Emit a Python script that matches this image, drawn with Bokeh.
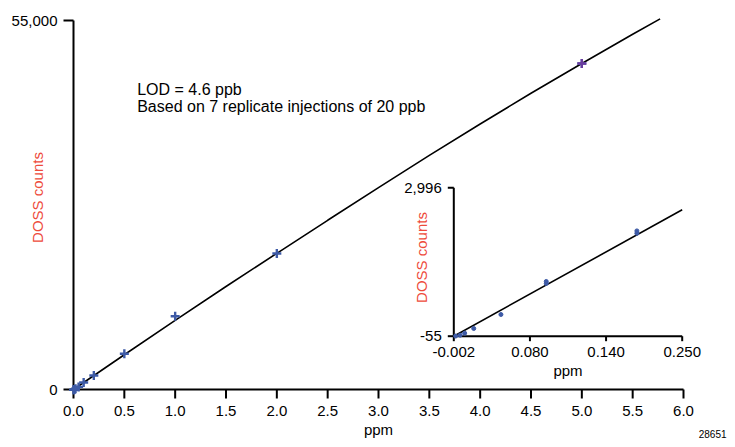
import math
from bokeh.plotting import figure
from bokeh.models import Range1d
from bokeh.core.properties import value
from bokeh.embed import file_html
from bokeh.resources import INLINE

# ---------------- data ----------------
conc_ppm = [0.0, 0.005, 0.01, 0.02, 0.05, 0.1, 0.2, 0.5, 1.0, 2.0, 5.0]
doss_counts = [-50, -34, 7, 103, 391, 1049, 2083, 5321, 10925, 20271, 48591]

fit_ppm = [0.0, 0.5, 1.0, 1.5, 2.0, 2.5, 3.0, 3.5, 4.0, 4.5, 5.0, 5.5, 5.77]
fit_counts = [0, 5180, 10300, 15350, 20300, 25220, 30100, 34900, 39580, 44150,
              48600, 52950, 55250]

inset_ppm = [0.0, 0.005, 0.01, 0.02, 0.05, 0.1, 0.1, 0.2, 0.2]
inset_counts = [-52, -34, 7, 103, 391, 1030, 1070, 2060, 2110]
inset_fit_ppm = [-0.002, 0.250]
inset_fit_counts = [-55, 2544]

main_xticks = [0.0, 0.5, 1.0, 1.5, 2.0, 2.5, 3.0, 3.5, 4.0, 4.5, 5.0, 5.5, 6.0]
main_yticks = [0, 55000]
inset_xticks = [-0.002, 0.082, 0.166, 0.250]
inset_xtick_labels = ["-0.002", "0.080", "0.140", "0.250"]
inset_yticks = [-55, 2996]

x_title = "ppm"
y_title = "DOSS counts"
annotation_lines = ["LOD = 4.6 ppb", "Based on 7 replicate injections of 20 ppb"]
footnote = "28651"

# ---------------- layout constants (pixels) ----------------
W, H = 735, 447
FL, FR, FT, FB = 73.0, 683.0, 20.0, 389.0      # main plot box
IL, IR, IT, IB = 453.3, 681.7, 187.3, 335.7    # inset plot box
X0, X1, Y0, Y1 = 0.0, 6.0, 0.0, 55000.0
IX0, IX1, IY0, IY1 = -0.002, 0.250, -55.0, 2996.0

FONT = value("Liberation Sans")
RED = "#EE4B3B"
BLUE = "#3D5AA6"
PURPLE = "#6A3C9E"

mx = (X1 - X0) / (FR - FL)   # data per pixel, main
my = (Y1 - Y0) / (FB - FT)
kx = (IX1 - IX0) / (IR - IL)  # data per pixel, inset
ky = (IY1 - IY0) / (IB - IT)


def fx(px):
    return X0 + (px - FL) * mx


def fy(py):
    return Y0 + (FB - py) * my


p = figure(
    width=W, height=H, min_border=0,
    x_range=Range1d(fx(0), fx(W)), y_range=Range1d(fy(H), fy(0)),
    x_axis_location=None, y_axis_location=None,
    output_backend="svg", toolbar_location=None,
)
p.extra_x_ranges = {"inset": Range1d(IX0 - IL * kx, IX1 + (W - IR) * kx)}
p.extra_y_ranges = {"inset": Range1d(IY0 - (H - IB) * ky, IY1 + IT * ky)}
p.outline_line_color = None
p.xgrid.visible = False
p.ygrid.visible = False
p.background_fill_color = "white"
p.border_fill_color = "white"

TXT = dict(text_font=FONT, text_font_size="15px", text_color="black")

# ---------------- main axes ----------------
p.segment(x0=[X0, X0], y0=[Y0, Y0], x1=[X1, X0], y1=[Y0, Y1],
          line_color="black", line_width=2)
p.segment(x0=main_xticks, y0=[Y0] * len(main_xticks),
          x1=main_xticks, y1=[Y0 - 9 * my] * len(main_xticks),
          line_color="black", line_width=2)
p.segment(x0=[X0] * len(main_yticks), y0=main_yticks,
          x1=[X0 - 10 * mx] * len(main_yticks), y1=main_yticks,
          line_color="black", line_width=2)
p.text(x=main_xticks, y=[Y0] * len(main_xticks), text=[f"{v:.1f}" for v in main_xticks],
       text_align="center", text_baseline="middle", y_offset=21, **TXT)
p.text(x=[X0] * len(main_yticks), y=main_yticks, text=[f"{v:,}" for v in main_yticks],
       text_align="right", text_baseline="middle", x_offset=-16, **TXT)
p.text(x=[(X0 + X1) / 2], y=[Y0], text=[x_title],
       text_align="center", text_baseline="middle", y_offset=40, **TXT)
p.text(x=[fx(37)], y=[fy(197)], text=[y_title], angle=math.pi / 2,
       text_align="center", text_baseline="middle",
       text_font=FONT, text_font_size="15px", text_color=RED)

# annotation and footnote
p.text(x=[fx(136.7)] * 2, y=[fy(88.7), fy(106.3)], text=annotation_lines,
       text_align="left", text_baseline="middle",
       text_font=FONT, text_font_size="16px", text_color="black")
p.text(x=[X1], y=[Y0], text=[footnote], text_align="right", text_baseline="middle",
       x_offset=43, y_offset=44, text_font=FONT, text_font_size="10px", text_color="black")

# main curve and points
p.line(fit_ppm, fit_counts, line_color="black", line_width=1.6)
p.scatter(conc_ppm, doss_counts, marker="cross", size=9, line_width=2.4, color=BLUE)
p.scatter(conc_ppm[-1:], doss_counts[-1:], marker="cross", size=9, line_width=2.4, color=PURPLE)

# ---------------- inset ----------------
R = dict(x_range_name="inset", y_range_name="inset")
p.segment(x0=[IX0, IX0], y0=[IY0, IY0], x1=[IX1, IX0], y1=[IY0, IY1],
          line_color="black", line_width=2, **R)
p.segment(x0=inset_xticks, y0=[IY0] * len(inset_xticks),
          x1=inset_xticks, y1=[IY0 - 5 * ky] * len(inset_xticks),
          line_color="black", line_width=2, **R)
p.segment(x0=[IX0] * len(inset_yticks), y0=inset_yticks,
          x1=[IX0 - 6 * kx] * len(inset_yticks), y1=inset_yticks,
          line_color="black", line_width=2, **R)
p.text(x=inset_xticks, y=[IY0] * len(inset_xticks), text=inset_xtick_labels,
       text_align="center", text_baseline="middle", y_offset=16, **TXT, **R)
p.text(x=[IX0] * len(inset_yticks), y=inset_yticks,
       text=[f"{v:,}" for v in inset_yticks],
       text_align="right", text_baseline="middle", x_offset=-12, **TXT, **R)
p.text(x=[(IX0 + IX1) / 2], y=[IY0], text=[x_title],
       text_align="center", text_baseline="middle", y_offset=34, **TXT, **R)
p.text(x=[IX0 + (421 - IL) * kx], y=[IY0 + (IB - 257) * ky], text=[y_title],
       angle=math.pi / 2, text_align="center", text_baseline="middle",
       text_font=FONT, text_font_size="15px", text_color=RED, **R)

p.line(inset_fit_ppm, inset_fit_counts, line_color="black", line_width=1.6, **R)
p.scatter(inset_ppm, inset_counts, marker="circle", size=4, color=BLUE, **R)

open("out.html", "w").write(file_html(p, INLINE))
